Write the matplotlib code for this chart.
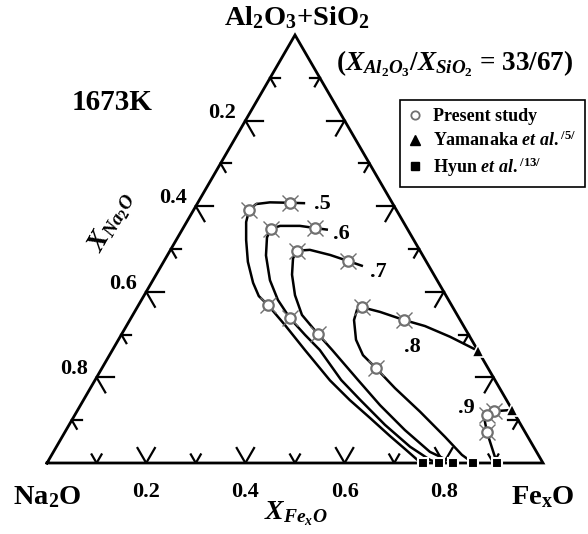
import numpy as np
import matplotlib
matplotlib.use("Agg")
import matplotlib.pyplot as plt
from matplotlib.lines import Line2D

plt.rcParams['font.family'] = ['Liberation Serif', 'DejaVu Serif']
plt.rcParams['font.weight'] = 'bold'
plt.rcParams['mathtext.fontset'] = 'custom'
plt.rcParams['mathtext.rm'] = 'Liberation Serif:bold'
plt.rcParams['mathtext.it'] = 'Liberation Serif:italic:bold'
plt.rcParams['mathtext.bf'] = 'Liberation Serif:bold'

# iso-activity curves: (X_FexO, X_Na2O) pairs
fe_05 = [0.217, 0.186, 0.145, 0.119, 0.112, 0.120, 0.141, 0.170, 0.205, 0.232, 0.261,
         0.319, 0.388, 0.474, 0.537, 0.599, 0.660, 0.705, 0.745, 0.758]
na_05 = [0.176, 0.206, 0.246, 0.276, 0.297, 0.317, 0.338, 0.360, 0.374, 0.378, 0.370,
         0.359, 0.348, 0.333, 0.316, 0.296, 0.277, 0.262, 0.249, 0.242]
fe_06 = [0.294, 0.266, 0.233, 0.193, 0.178, 0.180, 0.199, 0.236, 0.275, 0.321, 0.371,
         0.418, 0.496, 0.557, 0.637, 0.713, 0.769, 0.790]
na_06 = [0.161, 0.185, 0.213, 0.253, 0.275, 0.293, 0.316, 0.337, 0.344, 0.341, 0.330,
         0.318, 0.310, 0.295, 0.274, 0.249, 0.224, 0.210]
fe_07 = [0.407, 0.371, 0.328, 0.281, 0.256, 0.257, 0.274, 0.304, 0.341, 0.396, 0.443,
         0.530, 0.604, 0.683, 0.759, 0.819]
na_07 = [0.133, 0.157, 0.186, 0.221, 0.248, 0.265, 0.286, 0.304, 0.313, 0.303, 0.293,
         0.276, 0.261, 0.240, 0.215, 0.181]
fe_08 = [0.738, 0.665, 0.602, 0.553, 0.495, 0.453, 0.446, 0.452, 0.479, 0.511, 0.552,
         0.614, 0.692, 0.772, 0.827, 0.859]
na_08 = [0.000, 0.040, 0.078, 0.113, 0.152, 0.183, 0.196, 0.214, 0.233, 0.237, 0.226,
         0.211, 0.188, 0.167, 0.154, 0.141]
fe_09 = [0.876, 0.841, 0.831, 0.829, 0.851, 0.907]
na_09 = [0.000, 0.038, 0.057, 0.066, 0.077, 0.093]

# measured points
present_fe = [0.186, 0.112, 0.261, 0.266, 0.178, 0.321, 0.371, 0.256, 0.396,
              0.553, 0.453, 0.552, 0.841, 0.831, 0.851]
present_na = [0.206, 0.297, 0.370, 0.185, 0.275, 0.341, 0.157, 0.248, 0.303,
              0.113, 0.183, 0.226, 0.038, 0.057, 0.077]
yamanaka_fe = [0.738, 0.876]
yamanaka_na = [0.000, 0.000]
hyun_fe = [0.758, 0.790, 0.819, 0.859, 0.907]
hyun_na = [0.242, 0.210, 0.181, 0.141, 0.093]

ticks = [0.1, 0.2, 0.3, 0.4, 0.5, 0.6, 0.7, 0.8, 0.9]
tick_labels = ['0.2', '0.4', '0.6', '0.8']

S3 = np.sqrt(3) / 2


def tern(fe, na):
    fe = np.asarray(fe, float)
    na = np.asarray(na, float)
    top = 1 - fe - na
    return fe + top / 2, top * S3


W, H = 588, 534
fig = plt.figure(figsize=(W / 100, H / 100), dpi=100)
ax = fig.add_axes([47 / W, 71 / H, 496 / W, 428 / H])
ax.set_xlim(0, 1)
ax.set_ylim(0, S3)
ax.axis('off')

# triangle frame
ax.plot([0, 1, 0.5, 0], [0, 0, S3, 0], color='black', lw=2.0, clip_on=False,
        solid_joinstyle='miter', zorder=4)

# ticks along each edge, drawn along the two inner grid directions
for t in ticks:
    L = 0.035 if round(t * 10) % 2 == 0 else 0.02
    # bottom edge (X_FexO)
    bx, by = t, 0
    for dx, dy in [(-0.5, S3), (0.5, S3)]:
        ax.plot([bx, bx + dx * L], [by, by + dy * L], color='black', lw=1.6)
    # left edge (X_Na2O)
    lx, ly = tern(0, 1 - t)
    for dx, dy in [(1, 0), (0.5, -S3)]:
        ax.plot([lx, lx + dx * L], [ly, ly + dy * L], color='black', lw=1.6)
    # right edge
    rx, ry = tern(1 - t, 0)
    for dx, dy in [(-1, 0), (-0.5, -S3)]:
        ax.plot([rx, rx + dx * L], [ry, ry + dy * L], color='black', lw=1.6)

for lab in tick_labels:
    v = float(lab)
    ax.annotate(lab, xy=(v, 0), xytext=(0, -29), textcoords='offset pixels',
                ha='center', va='center', fontsize=16, annotation_clip=False)
    ax.annotate(lab, xy=tern(0, v), xytext=(-23, 8), textcoords='offset pixels',
                ha='center', va='center', fontsize=16, annotation_clip=False)

# iso-activity lines
for fe, na in [(fe_05, na_05), (fe_06, na_06), (fe_07, na_07), (fe_08, na_08), (fe_09, na_09)]:
    x, y = tern(fe, na)
    ax.plot(x, y, color='black', lw=1.8, zorder=2, solid_capstyle='butt')

gray = '#707070'
px_, py_ = tern(present_fe, present_na)
ax.plot(px_, py_, 'x', color=gray, ms=11, mew=1.0, zorder=3)
ax.plot(px_, py_, 'o', mfc='white', mec=gray, ms=7.5, mew=1.6, zorder=3.5)
yx, yy = tern(yamanaka_fe, yamanaka_na)
ax.plot(yx, yy, '^', color='black', mec='white', mew=1.2, ms=9, zorder=5, clip_on=False)
hx, hy = tern(hyun_fe, hyun_na)
ax.plot(hx, hy, 's', color='black', mec='white', mew=1.5, ms=7.5, zorder=5, clip_on=False)


def ftxt(x, y, s, **kw):
    fig.text(x / W, 1 - y / H, s, ha='center', va='center', **kw)


# iso-activity values
ftxt(322, 204, '.5', fontsize=16)
ftxt(341, 234, '.6', fontsize=16)
ftxt(378, 272, '.7', fontsize=16)
ftxt(412, 347, '.8', fontsize=16)
ftxt(466, 408, '.9', fontsize=16)

# titles and component names
ftxt(297, 18, r'Al$_2$O$_3$+SiO$_2$', fontsize=20.5)
ftxt(455, 64, r'($X_{Al_2O_3}$/$X_{SiO_2}$ = 33/67)', fontsize=19.5)
ftxt(112, 102, '1673K', fontsize=21)
ftxt(47, 497, r'Na$_2$O', fontsize=20.5)
ftxt(543, 497, r'Fe$_\mathrm{x}$O', fontsize=20.5)
ftxt(296, 514, r'$X_{Fe_xO}$', fontsize=20)
ftxt(112, 222, r'$X_{Na_2O}$', fontsize=20, rotation=60)

handles = [
    Line2D([], [], ls='none', marker='o', mfc='white', mec=gray, ms=6, mew=1.3),
    Line2D([], [], ls='none', marker='^', color='black', ms=7),
    Line2D([], [], ls='none', marker='s', color='black', ms=6),
]
labels = ['Present study', r'Yamanaka $et\ al.$$^{/5/}$', r'Hyun $et\ al.$$^{/13/}$']
leg = fig.legend(handles, labels, loc='upper left', bbox_to_anchor=(400 / W, 1 - 100 / H),
                 borderaxespad=0, frameon=True, fancybox=False, edgecolor='black',
                 framealpha=1, handlelength=0.8, handletextpad=0.6, labelspacing=0.3,
                 borderpad=0.45,
                 prop={'family': 'Liberation Serif', 'weight': 'bold', 'size': 13})
leg.get_frame().set_linewidth(1.2)

fig.savefig('out.png', dpi=100)
